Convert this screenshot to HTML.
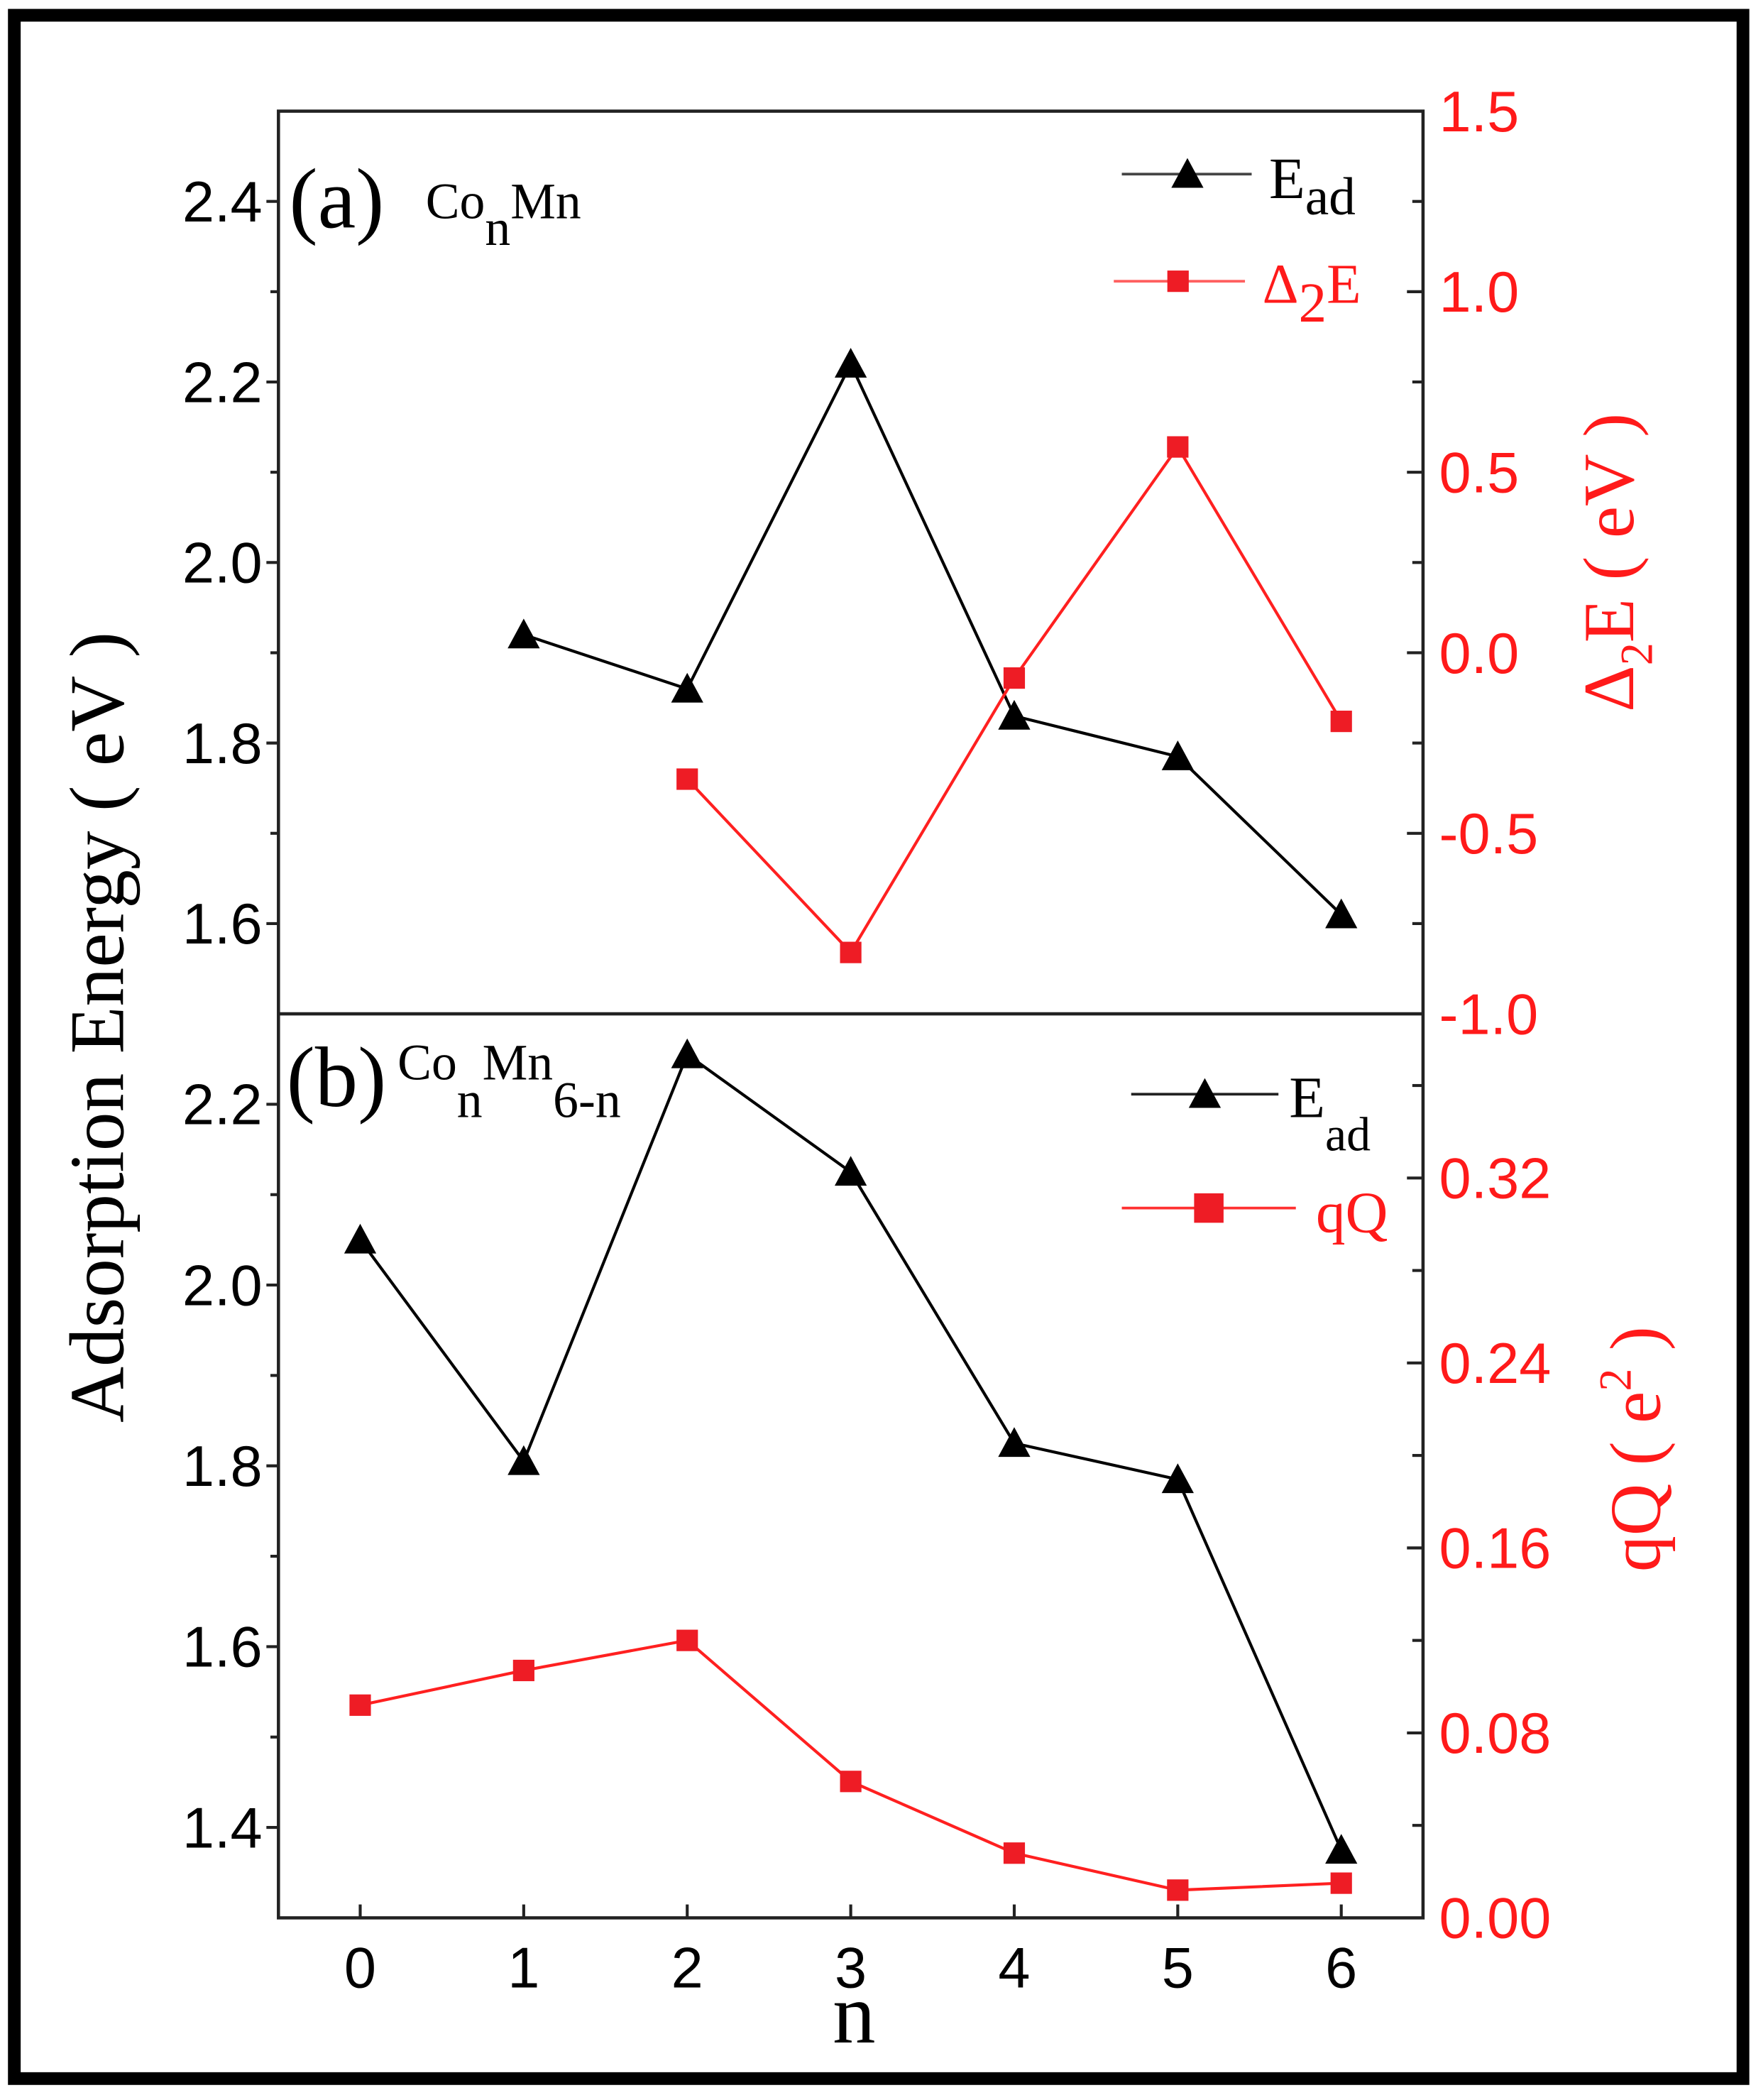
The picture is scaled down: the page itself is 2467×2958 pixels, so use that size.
<!DOCTYPE html>
<html><head><meta charset="utf-8"><style>
html,body{margin:0;padding:0;background:#fff;}
svg{display:block;}
.tk{font-family:"Liberation Sans",sans-serif;font-size:43px;}
.sf{font-family:"Liberation Serif",serif;}
</style></head>
<body>
<svg id="chart" width="2467" height="2958" viewBox="0 0 1308 1568" preserveAspectRatio="none" xmlns="http://www.w3.org/2000/svg">
<rect x="10.7" y="11.4" width="1291.3" height="1540.6" fill="none" stroke="#000" stroke-width="9.5"/>
<g id="g"></g>
</svg>
<script>
// ---- data ----
const nTicks = [0,1,2,3,4,5,6];
const topEadN = [1,2,3,4,5,6];
const topEadV = [1.92,1.86,2.22,1.83,1.785,1.61];
const topD2EN = [2,3,4,5,6];
const topD2EV = [-0.35,-0.83,-0.07,0.57,-0.19];
const botEadN = [0,1,2,3,4,5,6];
const botEadV = [2.05,1.805,2.255,2.125,1.825,1.785,1.375];
const botQQN = [0,1,2,3,4,5,6];
const botQQV = [0.092,0.107,0.120,0.059,0.028,0.012,0.015];
const topLeftTicks = [1.6,1.8,2.0,2.2,2.4];
const topRightTicks = [-1.0,-0.5,0.0,0.5,1.0,1.5];
const botLeftTicks = [1.4,1.6,1.8,2.0,2.2];
const botRightTicks = [0.00,0.08,0.16,0.24,0.32];

const NS="http://www.w3.org/2000/svg";
const g=document.getElementById('g');
function mk(tag,attrs,parent){const e=document.createElementNS(NS,tag);for(const k in attrs)e.setAttribute(k,attrs[k]);(parent||g).appendChild(e);return e;}
const L=208,R=1063,T=83,M=757,B=1432;
const x=v=>L+(v+0.5)/7*(R-L);
const yTL=v=>M-(v-1.5)/1.0*(M-T);
const yTR=v=>M-(v+1.0)/2.5*(M-T);
const yBL=v=>B-(v-1.3)/1.0*(B-M);
const yBR=v=>B-v/0.391*(B-M);

let e;
e=mk('rect',{x:L,y:T,width:R-L,height:B-T,fill:'none',stroke:'#222','stroke-width':2.4});

e=mk('line',{x1:L,y1:M,x2:R,y2:M,stroke:'#222','stroke-width':2.4});


function tick(x1,y1,x2,y2){const t=mk('line',{x1,y1,x2,y2,stroke:'#222','stroke-width':2.2});}
function label(txt,xx,yy,anchor,color,name){const t=mk('text',{x:xx,y:yy,'text-anchor':anchor,fill:color,class:'tk'});t.textContent=txt;}

for(let v=1.5;v<=2.501;v+=0.1){const major=topLeftTicks.some(t=>Math.abs(t-v)<1e-6);const yy=yTL(v);if(yy<T+1||yy>M-1)continue;tick(L,yy,L-(major?9:6),yy);}
topLeftTicks.forEach(v=>label(v.toFixed(1),196,yTL(v)+15,'end','#000','top-left-tick-label'));
for(let v=1.3;v<=2.301;v+=0.1){const major=botLeftTicks.some(t=>Math.abs(t-v)<1e-6);const yy=yBL(v);if(yy<M+1||yy>B-1)continue;tick(L,yy,L-(major?9:6),yy);}
botLeftTicks.forEach(v=>label(v.toFixed(1),196,yBL(v)+15,'end','#000','bottom-left-tick-label'));
for(let v=-1.0;v<=1.501;v+=0.25){const major=topRightTicks.some(t=>Math.abs(t-v)<1e-6);const yy=yTR(v);if(yy<T+1||yy>M-1)continue;tick(R,yy,R-(major?12:8),yy);}
topRightTicks.forEach(v=>label(v.toFixed(1),1075,yTR(v)+15,'start','#ff1a1a','top-right-tick-label'));
for(let v=0;v<=0.3801;v+=0.04){const major=botRightTicks.some(t=>Math.abs(t-v)<1e-6);const yy=yBR(v);if(yy<M+1||yy>B-1)continue;tick(R,yy,R-(major?12:8),yy);}
botRightTicks.forEach(v=>label(v.toFixed(2),1075,yBR(v)+15,'start','#ff1a1a','bottom-right-tick-label'));
nTicks.forEach(v=>{tick(x(v),B,x(v),B-10);label(String(v),x(v),1484,'middle','#000','x-tick-label');});

function line(ns,vs,fy,color,name){const p=mk('polyline',{points:ns.map((n,i)=>x(n)+','+fy(vs[i])).join(' '),fill:'none',stroke:color,'stroke-width':2.2});}
function tri(cx,cy,name,s){s=s||12;const p=mk('polygon',{points:`${cx},${cy-s} ${cx-s},${cy+s*0.85} ${cx+s},${cy+s*0.85}`,fill:'#000'});}
function sq(cx,cy,name,s){s=s||8;const p=mk('rect',{x:cx-s,y:cy-s,width:2*s,height:2*s,fill:'#ee1c25'});}

line(topEadN,topEadV,yTL,'#000','top-ead-line');
line(topD2EN,topD2EV,yTR,'#ff2020','top-d2e-line');
line(botEadN,botEadV,yBL,'#000','bottom-ead-line');
line(botQQN,botQQV,yBR,'#ff2020','bottom-qq-line');
topEadN.forEach((n,i)=>tri(x(n),yTL(topEadV[i]),'top-ead-point'));
topD2EN.forEach((n,i)=>sq(x(n),yTR(topD2EV[i]),'top-d2e-point'));
botEadN.forEach((n,i)=>tri(x(n),yBL(botEadV[i]),'bottom-ead-point'));
botQQN.forEach((n,i)=>sq(x(n),yBR(botQQV[i]),'bottom-qq-point'));

e=mk('line',{x1:838,y1:130,x2:935,y2:130,stroke:'#444','stroke-width':2});
tri(887,130,'legend-ead-marker');
e=mk('line',{x1:832,y1:210,x2:930,y2:210,stroke:'#ff6060','stroke-width':2});
sq(880,210,'legend-d2e-marker');
e=mk('line',{x1:845,y1:817,x2:955,y2:817,stroke:'#222','stroke-width':2});
tri(900,817,'legend-ead-marker-b');
e=mk('line',{x1:838,y1:902,x2:968,y2:902,stroke:'#ff3030','stroke-width':2});
sq(903,902,'legend-qq-marker',11);
</script>
<svg style="position:absolute;left:0;top:0" width="2467" height="2958" viewBox="0 0 1308 1568" preserveAspectRatio="none" xmlns="http://www.w3.org/2000/svg">
<g class="sf" font-family="Liberation Serif, serif">
<text x="948" y="148" font-size="44" fill="#000">E<tspan font-size="40" dy="12">ad</tspan></text>
<text x="943" y="226" font-size="42" fill="#ff1a1a">Δ<tspan dy="14">2</tspan><tspan dy="-14">E</tspan></text>
<text x="963" y="834" font-size="44" fill="#000">E<tspan font-size="36" dy="25">ad</tspan></text>
<text x="983" y="920" font-size="44" fill="#ff1a1a">qQ</text>
<text x="216" y="170" font-size="64" fill="#000">(a)</text>
<text x="318" y="163" font-size="38" fill="#000">Co<tspan dy="20">n</tspan><tspan dy="-20">Mn</tspan></text>
<text x="214" y="826" font-size="64" fill="#000">(b)</text>
<text x="297" y="806" font-size="38" fill="#000">Co<tspan dy="28">n</tspan><tspan dy="-28">Mn</tspan><tspan dy="28">6-n</tspan></text>
<text x="638" y="1525" font-size="64" text-anchor="middle" fill="#000">n</text>
<text transform="translate(92,767) rotate(-90)" font-size="58" text-anchor="middle" fill="#000">Adsorption Energy ( eV )</text>
<text transform="translate(1220,420) rotate(-90)" font-size="54" text-anchor="middle" fill="#ff1a1a">Δ<tspan font-size="34" dy="14">2</tspan><tspan dy="-14">E ( eV )</tspan></text>
<text transform="translate(1240,1082) rotate(-90)" font-size="54" text-anchor="middle" fill="#ff1a1a">qQ ( e<tspan font-size="34" dy="-22">2</tspan><tspan dy="22"> )</tspan></text>
</g>
</svg>
</body></html>
